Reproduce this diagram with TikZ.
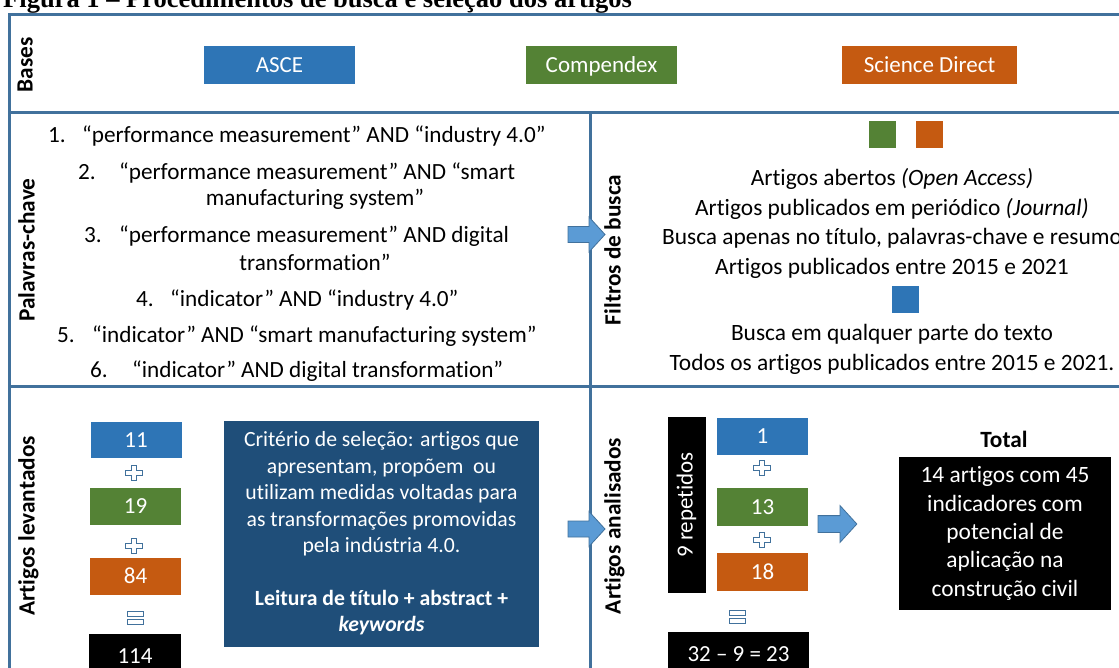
\documentclass[tikz,border=0pt]{standalone}
\usepackage{fontspec}
\setmainfont{Carlito}[Ligatures={TeX,NoCommon}]
\newfontfamily\titlefont{Liberation Serif}
\newcommand\fsz[2]{\fontsize{#1}{#2}\selectfont}
\definecolor{framec}{HTML}{41719C}
\definecolor{bblue}{HTML}{2E75B6}
\definecolor{bgreen}{HTML}{548235}
\definecolor{borange}{HTML}{C55A11}
\definecolor{navy}{HTML}{1F4E79}
\definecolor{arrowc}{HTML}{5B9BD5}
\begin{document}
\begin{tikzpicture}[x=1pt,y=-1pt,
  frame/.style={draw=framec, line width=3pt},
  oneline/.style={inner sep=0pt, text height=16.5pt, text depth=5.5pt},
  colbox/.style={inner sep=0pt, text height=16.5pt, text depth=2pt, text=white, font=\fsz{23}{27}, minimum height=37pt},
  sidelabel/.style={oneline, rotate=90, font=\fsz{23.3}{27}\bfseries},
  kw/.style={oneline, font=\fsz{23.2}{27}},
  ftxt/.style={inner sep=0pt, align=center, font=\fsz{23.4}{29.8}},
  sq/.style={inner sep=0pt, minimum width=27pt, minimum height=27pt},
  iconline/.style={draw=framec, fill=white, line width=0.8pt},
  plusicon/.pic={\path[iconline] (-2.8,-7.5) -- (2.8,-7.5) -- (2.8,-2.6) -- (8.5,-2.6) -- (8.5,2.6) -- (2.8,2.6) -- (2.8,7.5) -- (-2.8,7.5) -- (-2.8,2.6) -- (-8.5,2.6) -- (-8.5,-2.6) -- (-2.8,-2.6) -- cycle;},
  equalicon/.pic={\path[iconline] (-8,-6.5) rectangle (8,-1.2); \path[iconline] (-8,1.2) rectangle (8,6.5);},
  blockarrow/.pic={\path[fill=arrowc, draw=framec, line width=0.8pt] (0,-8) -- (21,-8) -- (21,-17.5) -- (37,0) -- (21,17.5) -- (21,8) -- (0,8) -- cycle;}
]
\useasboundingbox (0,0) rectangle (1119,668);
\clip (0,0) rectangle (1119,668);

% caption, partly above the page edge
\node[anchor=base west, inner sep=0pt, font=\titlefont\fsz{26.5}{30}\bfseries] (title) at (3,8)
  {Figura 1 – Procedimentos de busca e seleção dos artigos};

% outer frame and section rules
\draw[frame] (1130,15) -- (9.5,15) -- (9.5,690);
\draw[frame] (9.5,112.5) -- (1130,112.5);
\draw[frame] (9.5,386) -- (1130,386);
\draw[frame] (590,112.5) -- (590,690);

% databases
\node[sidelabel] (lbases) at (27,65) {Bases};
\node[colbox, fill=bblue, minimum width=151pt, minimum height=38pt] (asce) at (279.5,65) {ASCE};
\node[colbox, fill=bgreen, minimum width=151pt, minimum height=38pt] (comp) at (601.5,65) {Compendex};
\node[colbox, fill=borange, minimum width=175pt, minimum height=38pt] (sd) at (929.5,65) {Science Direct};

% keywords
\node[sidelabel] (lkw) at (29,250) {Palavras-chave};
\node[kw, anchor=west] (k1) at (48,137) {\makebox[34pt][l]{1.}“performance measurement” AND “industry 4.0”};
\node[kw, anchor=west] (k2a) at (78,174) {\makebox[41pt][l]{2.}“performance measurement” AND “smart};
\node[kw] (k2b) at (315,200) {manufacturing system”};
\node[kw, anchor=west] (k3a) at (84,237) {\makebox[35pt][l]{3.}“performance measurement” AND digital};
\node[kw] (k3b) at (315,265) {transformation”};
\node[kw, anchor=west] (k4) at (136,301) {\makebox[34pt][l]{4.}“indicator” AND “industry 4.0”};
\node[kw, anchor=west] (k5) at (57,337) {\makebox[35pt][l]{5.}“indicator” AND “smart manufacturing system”};
\node[kw, anchor=west] (k6) at (90,372) {\makebox[42pt][l]{6.}“indicator” AND digital transformation”};

\pic at (568,234.5) {blockarrow};

% search filters
\node[sidelabel] (lfil) at (615,250) {Filtros de busca};
\node[sq, fill=bgreen] (sqg) at (882.5,135) {};
\node[sq, fill=borange] (sqo) at (929,135) {};
\node[ftxt] (f1) at (892,223.5) {Artigos abertos \textit{(Open Access)}\\
  Artigos publicados em periódico \textit{(Journal)}\\
  Busca apenas no título, palavras-chave e resumo\\
  Artigos publicados entre 2015 e 2021};
\node[sq, fill=bblue] (sqb) at (905,300) {};
\node[ftxt] (f2) at (892,349.5) {Busca em qualquer parte do texto\\
  Todos os artigos publicados entre 2015 e 2021.};

% collected articles
\node[sidelabel] (llev) at (29,526) {Artigos levantados};
\node[colbox, fill=bblue, minimum width=91pt, minimum height=36pt] (n11) at (136,440) {11};
\pic at (134,473) {plusicon};
\node[colbox, fill=bgreen, minimum width=91pt] (n19) at (135.5,506.5) {19};
\pic at (134,546) {plusicon};
\node[colbox, fill=borange, minimum width=91pt] (n84) at (135.5,576.5) {84};
\pic at (135,618) {equalicon};
\node[colbox, fill=black, minimum width=92pt, minimum height=45pt] (n114) at (135,656.5) {114};

\node[inner sep=0pt, fill=navy, text=white, minimum width=315pt, minimum height=226pt,
  align=center, font=\fsz{21.7}{26.4}] (crit) at (381.5,533.5)
  {Critério de seleção: artigos que\\ apresentam, propõem\ \ ou\\ utilizam medidas voltadas para\\
   as transformações promovidas\\ pela indústria 4.0.\\[26.4pt]
   \textbf{Leitura de título + abstract +}\\ \textbf{\textit{keywords}}};

\pic at (568,529) {blockarrow};

% analysed articles
\node[sidelabel] (lana) at (615,526) {Artigos analisados};
\node[oneline, fill=black, text=white, rotate=90, minimum width=176pt, minimum height=38pt,
  font=\fsz{23}{27}] (rep) at (687,505) {9 repetidos};
\node[colbox, fill=bblue, minimum width=91pt, minimum height=37pt] (n1) at (762.5,436.5) {1};
\pic at (762,468) {plusicon};
\node[colbox, fill=bgreen, minimum width=91pt, minimum height=38pt] (n13) at (762.5,507) {13};
\pic at (762,540) {plusicon};
\node[colbox, fill=borange, minimum width=91pt, minimum height=38pt] (n18) at (762.5,572) {18};
\pic at (737,617) {equalicon};
\node[colbox, fill=black, minimum width=141pt, minimum height=44pt] (n23) at (738.5,654) {32 – 9 = 23};

\pic[scale=1.05] at (818,524) {blockarrow};

\node[colbox, text=black, font=\fsz{23.3}{27}\bfseries, minimum height=0pt] (ttl) at (1004,440) {Total};
\node[inner sep=0pt, fill=black, text=white, minimum width=212pt, minimum height=153pt,
  align=center, font=\fsz{23.4}{28.3}] (tot) at (1005,533.5)
  {14 artigos com 45\\ indicadores com\\ potencial de\\ aplicação na\\ construção civil};
\end{tikzpicture}
\end{document}
